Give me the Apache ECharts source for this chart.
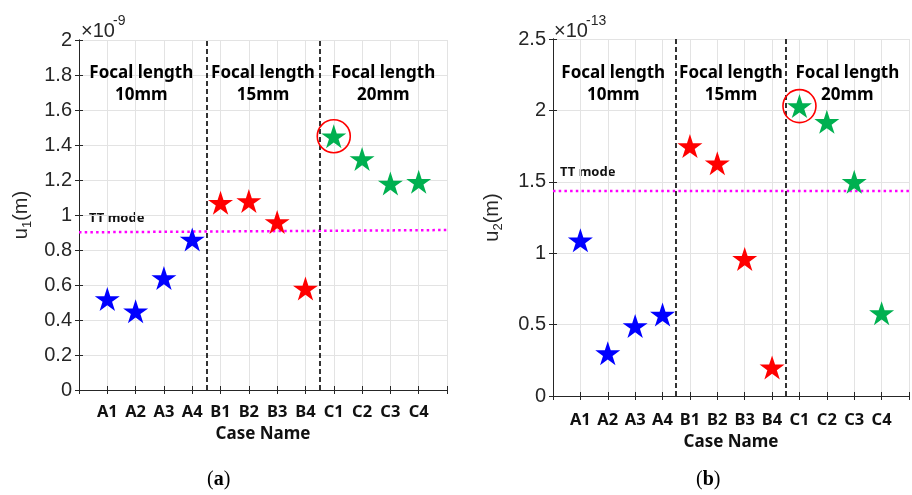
<!DOCTYPE html>
<html>
<head>
<meta charset="utf-8">
<script src="https://cdn.jsdelivr.net/npm/echarts@6/dist/echarts.min.js"></script>
<style>
html,body{margin:0;padding:0;background:#fff;}
#main{width:912px;height:495px;}
</style>
</head>
<body>
<div id="main"></div>
<script>
// ---------------- data ----------------
const categories = ['A1','A2','A3','A4','B1','B2','B3','B4','C1','C2','C3','C4'];
const groupIndex = [0,0,0,0,1,1,1,1,2,2,2,2];
const groupLabels = ['Focal length\n10mm','Focal length\n15mm','Focal length\n20mm'];
const groupColors = ['#0000FF','#FF0000','#00B050'];
const u1Values = [0.52,0.45,0.64,0.86,1.07,1.08,0.96,0.58,1.45,1.32,1.18,1.19]; // x1e-9 m
const u2Values = [1.09,0.30,0.49,0.57,1.75,1.63,0.96,0.20,2.03,1.92,1.50,0.58]; // x1e-13 m
const u1TTmode = [0.901, 0.914];   // at x = 0 and x = 13
const u2TTmode = [1.436, 1.436];
const separators = [4.5, 8.5];
const highlightCase = 'C1';

// ---------------- helpers ----------------
const STAR = 'path://M50 0 L61.23 34.55 L97.55 34.55 L68.16 55.9 L79.39 90.45 L50 69.1 L20.61 90.45 L31.84 55.9 L2.45 34.55 L38.77 34.55 Z';
const AXC = '#262626';
const tickFont = '"Liberation Sans", Arial, sans-serif';
const boldFont = '"Noto Sans", "Open Sans", sans-serif';

function xAxes(gi, labelMargin, nameGap){
  return [{
    type:'value', gridIndex:gi, min:0, max:13, interval:1,
    axisLine:{show:true, onZero:false, lineStyle:{color:AXC, width:1}},
    axisTick:{show:true, inside:true, length:4, lineStyle:{color:AXC}},
    splitLine:{show:true, lineStyle:{color:'#e3e3e3', width:1}},
    axisLabel:{margin:labelMargin, fontFamily:boldFont, fontWeight:'bold', fontSize:16.5, color:'#111',
      formatter:v => (v>=1 && v<=categories.length) ? categories[v-1] : ''},
    name:'Case Name', nameLocation:'middle', nameGap:nameGap,
    nameTextStyle:{fontFamily:boldFont, fontWeight:'bold', fontSize:17, color:'#111'}
  },{
    type:'value', gridIndex:gi, position:'top', min:0, max:13, interval:1,
    axisLine:{show:true, lineStyle:{color:AXC, width:1}},
    axisTick:{show:true, inside:true, length:4, lineStyle:{color:AXC}},
    axisLabel:{show:false}, splitLine:{show:false}
  }];
}
function yAxes(gi, max, interval, sub, nameGap){
  return [{
    type:'value', gridIndex:gi, min:0, max:max, interval:interval,
    axisLine:{show:true, lineStyle:{color:AXC, width:1}},
    axisTick:{show:true, inside:true, length:4, lineStyle:{color:AXC}},
    splitLine:{show:true, lineStyle:{color:'#e3e3e3', width:1}},
    axisLabel:{fontFamily:tickFont, fontSize:20, color:AXC, margin:7},
    name:'{n|u}{s|'+sub+'}{n|(m)}', nameLocation:'middle', nameGap:nameGap, nameRotate:90,
    nameTextStyle:{rich:{n:{fontFamily:tickFont, fontSize:20, color:AXC, height:24},
                         s:{fontFamily:tickFont, fontSize:13, color:AXC, height:24, verticalAlign:'bottom', padding:[12,0,0,0]}}}
  },{
    type:'value', gridIndex:gi, position:'right', min:0, max:max, interval:interval,
    axisLine:{show:true, lineStyle:{color:AXC, width:1}},
    axisTick:{show:true, inside:true, length:4, lineStyle:{color:AXC}},
    axisLabel:{show:false}, splitLine:{show:false}
  }];
}

function chartSeries(gi, values, tt, labelY){
  const xi = gi*2, yi = gi*2;
  const s = [];
  [0,1,2].forEach(g => {
    s.push({
      type:'scatter', xAxisIndex:xi, yAxisIndex:yi, symbol:STAR, symbolSize:[25,24], z:5,
      itemStyle:{color:groupColors[g], opacity:1},
      data: values.map((v,i)=> groupIndex[i]===g ? [i+1, v] : null).filter(d=>d)
    });
  });
  // highlight circle
  const hi = categories.indexOf(highlightCase);
  s.push({type:'scatter', xAxisIndex:xi, yAxisIndex:yi, symbol:'circle', symbolSize:33, z:6,
    itemStyle:{color:'rgba(0,0,0,0)', borderColor:'#FF0000', borderWidth:1.6, opacity:1},
    data:[[hi+1, values[hi]]]});
  // TT mode line
  s.push({type:'line', xAxisIndex:xi, yAxisIndex:yi, symbol:'none', z:4,
    lineStyle:{color:'#FF00FF', width:2.5, type:[2.5,3.2]},
    data:[[0,tt[0]],[13,tt[1]]],
    markLine:{symbol:'none', silent:true, label:{show:false},
      lineStyle:{color:'#000', width:1.6, type:[5,3]},
      data: separators.map(x=>({xAxis:x}))}
  });
  // group labels
  const lx = [2.2, 6.5, 10.75];
  s.push({type:'scatter', xAxisIndex:xi, yAxisIndex:yi, symbol:'circle', symbolSize:1, z:7,
    itemStyle:{color:'#ffffff', opacity:1},
    label:{show:true, position:'inside', formatter:p=>groupLabels[p.dataIndex], opacity:1,
      fontFamily:boldFont, fontWeight:'bold', fontSize:17, lineHeight:22, color:'#000'},
    data: lx.map(x=>[x, labelY])});
  return s;
}

function txt(x, y, s, size){
  return {type:'text', left:x, top:y, style:{text:s, fontFamily:'"Liberation Sans", Arial, sans-serif', fontSize:size, fill:AXC}};
}

const chart = echarts.init(document.getElementById('main'), null, {renderer:'canvas'});
const option = {
  animation:false,
  backgroundColor:'#fff',
  grid:[
    {left:79, top:40, width:368, height:350},
    {left:553, top:39, width:368, height:357}
  ],
  xAxis:[...xAxes(0, 14, 33), ...xAxes(1, 16, 35)],
  yAxis:[...yAxes(0, 2, 0.2, '1', 40), ...yAxes(1, 2.5, 0.5, '2', 43)],
  series:[...chartSeries(0, u1Values, u1TTmode, 1.75), ...chartSeries(1, u2Values, u2TTmode, 2.187)],
  graphic:[
    txt(81, 21, '×10', 20), txt(113, 14, '-9', 14),
    txt(554, 21, '×10', 20), txt(586, 14, '-13', 14),
    {type:'text', left:89, top:212, style:{text:'TT mode', fontFamily:'"Noto Sans", sans-serif', fontWeight:'bold', fontSize:13, fill:'#111'}},
    {type:'text', left:560, top:166, style:{text:'TT mode', fontFamily:'"Noto Sans", sans-serif', fontWeight:'bold', fontSize:13, fill:'#111'}},
    {type:'text', left:207, top:470, style:{text:'{p|(}{b|a}{p|)}', rich:{p:{fontFamily:'Liberation Serif, serif',fontSize:20,fill:'#000'},b:{fontFamily:'Liberation Serif, serif',fontSize:20,fontWeight:'bold',fill:'#000'}}}},
    {type:'text', left:696, top:470, style:{text:'{p|(}{b|b}{p|)}', rich:{p:{fontFamily:'Liberation Serif, serif',fontSize:20,fill:'#000'},b:{fontFamily:'Liberation Serif, serif',fontSize:20,fontWeight:'bold',fill:'#000'}}}}
  ]
};
chart.setOption(option);
</script>
</body>
</html>
